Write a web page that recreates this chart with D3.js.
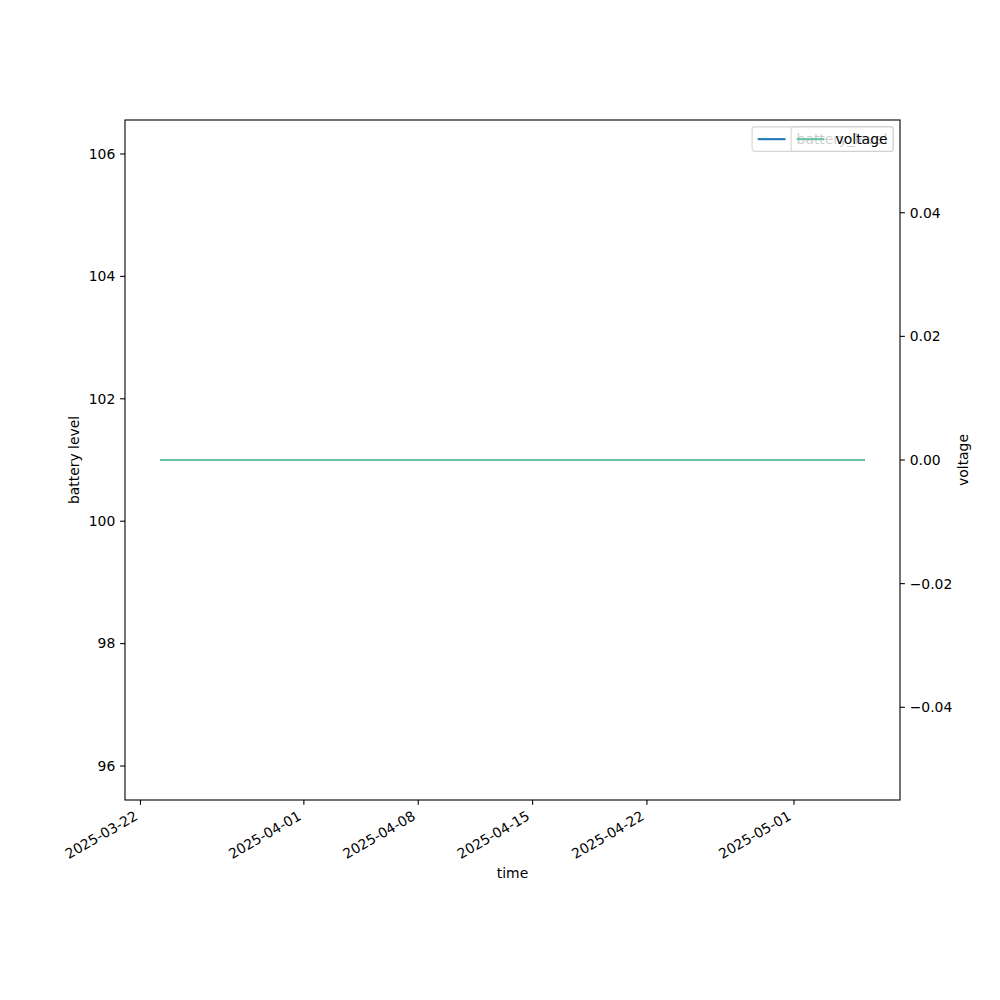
<!DOCTYPE html>
<html><head><meta charset="utf-8">
<script src="https://cdn.jsdelivr.net/npm/d3@7"></script>
<style>body{margin:0;background:#fff}svg{display:block}text{font-family:"DejaVu Sans",sans-serif}</style>
</head><body>
<svg id="chart" width="1000" height="1000"></svg>
<script>
// ---- data ----
const times = ["2025-03-23T05:00:00Z","2025-04-01T00:00:00Z","2025-04-10T00:00:00Z","2025-04-20T00:00:00Z","2025-04-30T00:00:00Z","2025-05-05T08:00:00Z"];
const batteryLevel = [101,101,101,101,101,101];
const voltage = [0,0,0,0,0,0];
const xTickLabels = ["2025-03-22","2025-04-01","2025-04-08","2025-04-15","2025-04-22","2025-05-01"];
const leftTicks = [96,98,100,102,104,106];
const rightTicks = [-0.04,-0.02,0,0.02,0.04];
const seriesNames = ["battery_level","voltage"];
const seriesColors = ["#1f77b4","#66c2a5"];

const svg = d3.select("#chart");
const L=125,R=900,T=120,B=800;
const fs=13.9;
const dates = times.map(t=>new Date(t));
const ext = d3.extent(dates);
const span = ext[1]-ext[0];
const x = d3.scaleUtc().domain([new Date(+ext[0]-0.05*span), new Date(+ext[1]+0.05*span)]).range([L,R]);
const yL = d3.scaleLinear().domain([95.445,106.555]).range([B,T]);
const yR = d3.scaleLinear().domain([-0.055,0.055]).range([B,T]);

// lines
const line1 = d3.line().x((d,i)=>x(dates[i])).y(d=>yL(d));
const line2 = d3.line().x((d,i)=>x(dates[i])).y(d=>yR(d));
svg.append("path").attr("d",line1(batteryLevel)).attr("fill","none").attr("stroke",seriesColors[0]).attr("stroke-width",2.08);
svg.append("path").attr("d",line2(voltage)).attr("fill","none").attr("stroke",seriesColors[1]).attr("stroke-width",2.08);

// frame
svg.append("rect").attr("x",L).attr("y",T).attr("width",R-L).attr("height",B-T).attr("fill","none").attr("stroke","#000").attr("stroke-width",1.1);

const tl=4.86, pad=4.86;
// left axis
leftTicks.forEach(v=>{
  const y=yL(v);
  svg.append("line").attr("x1",L-tl).attr("x2",L).attr("y1",y).attr("y2",y).attr("stroke","#000").attr("stroke-width",1.1);
  svg.append("text").attr("x",L-tl-pad).attr("y",y).attr("dy","0.35em").attr("text-anchor","end").attr("font-size",fs).text(v);
});
// right axis
const fmtR = v=> (v<0?"\u2212":"")+Math.abs(v).toFixed(2);
rightTicks.forEach(v=>{
  const y=yR(v);
  svg.append("line").attr("x1",R).attr("x2",R+tl).attr("y1",y).attr("y2",y).attr("stroke","#000").attr("stroke-width",1.1);
  svg.append("text").attr("x",R+tl+pad).attr("y",y).attr("dy","0.35em").attr("text-anchor","start").attr("font-size",fs).text(fmtR(v));
});
// x axis
xTickLabels.forEach(s=>{
  const xx=x(new Date(s+"T00:00:00Z"));
  svg.append("line").attr("x1",xx).attr("x2",xx).attr("y1",B).attr("y2",B+tl).attr("stroke","#000").attr("stroke-width",1.1);
  const ax=xx-1.8, ay=B+tl+pad+0.866*10.6;
  svg.append("text").attr("transform",`translate(${ax},${ay}) rotate(-30)`).attr("text-anchor","end").attr("font-size",fs).text(s);
});
// axis labels
svg.append("text").attr("x",(L+R)/2).attr("y",878).attr("text-anchor","middle").attr("font-size",fs).text("time");
svg.append("text").attr("transform",`translate(79,${(T+B)/2}) rotate(-90)`).attr("text-anchor","middle").attr("font-size",fs).text("battery level");
svg.append("text").attr("transform",`translate(968,${(T+B)/2}) rotate(-90)`).attr("text-anchor","middle").attr("font-size",fs).text("voltage");

// legends
function legend(name,color,width){
  const x1=R-6.9-width, y1=T+6.9, h=24.5;
  const g=svg.append("g");
  g.append("rect").attr("x",x1).attr("y",y1).attr("width",width).attr("height",h).attr("rx",2.8)
    .attr("fill","#fff").attr("fill-opacity",0.8).attr("stroke","#cccccc").attr("stroke-opacity",0.8).attr("stroke-width",1.1);
  const ly=y1+h/2;
  g.append("line").attr("x1",x1+5.6).attr("x2",x1+5.6+27.8).attr("y1",ly).attr("y2",ly).attr("stroke",color).attr("stroke-width",2.08);
  g.append("text").attr("x",x1+5.6+27.8+11.1).attr("y",ly).attr("dy","0.35em").attr("font-size",fs).text(name);
}
legend(seriesNames[0],seriesColors[0],141);
legend(seriesNames[1],seriesColors[1],102);
</script>
</body></html>
